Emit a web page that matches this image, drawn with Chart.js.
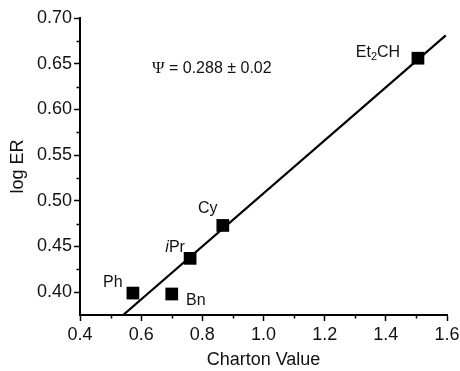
<!DOCTYPE html>
<html>
<head>
<meta charset="utf-8">
<script src="https://cdn.jsdelivr.net/npm/chart.js@4.4.1/dist/chart.umd.min.js"></script>
<style>
  html, body { margin: 0; padding: 0; background: #fff; }
  #wrap { width: 460px; height: 371px; }
</style>
</head>
<body>
<div id="wrap"><canvas id="c"></canvas></div>
<script>
// values
const chartonX = [0.573, 0.700, 0.760, 0.867, 1.505];
const logER = [0.399, 0.398, 0.437, 0.473, 0.656];
const groupNames = ['Ph', 'Bn', '<i>i</i>Pr', 'Cy', 'Et<sub>2</sub>CH'];
// fitted line end points
const fitX = [0.541, 1.596];
const fitY = [0.375, 0.681];
const psiText = 'Ψ = 0.288 ± 0.02';

// label offsets from the square (px)
const labelOffsets = [[-20, -10], [24, 7], [-15, -11], [-15, -17], [-40, -6]];

const FONT = '"Liberation Sans", Arial, sans-serif';
Chart.defaults.font.family = FONT;
Chart.defaults.color = '#111';

// split "<i>..</i>" and "<sub>..</sub>" into pieces
function parseLabel(s) {
    const parts = [];
    const re = /<(i|sub)>(.*?)<\/\1>|([^<]+)/g;
    let m;
    while ((m = re.exec(s)) !== null) {
        if (m[3]) parts.push({t: m[3], k: 'n'});
        else parts.push({t: m[2], k: m[1]});
    }
    return parts;
}

const labelPlugin = {
    id: 'pointLabels',
    afterDatasetsDraw(chart) {
        const ctx = chart.ctx;
        const xs = chart.scales.x, ys = chart.scales.y;
        ctx.save();
        ctx.fillStyle = '#111';
        ctx.textBaseline = 'middle';
        ctx.textAlign = 'left';
        groupNames.forEach((name, i) => {
            const px = xs.getPixelForValue(chartonX[i]) + labelOffsets[i][0];
            const py = ys.getPixelForValue(logER[i]) + labelOffsets[i][1];
            const parts = parseLabel(name);
            const fontFor = k => k === 'i' ? `italic 16px ${FONT}` : (k === 'sub' ? `11px ${FONT}` : `16px ${FONT}`);
            let w = 0;
            parts.forEach(p => { ctx.font = fontFor(p.k); w += ctx.measureText(p.t).width; });
            let x = px - w / 2;
            parts.forEach(p => {
                ctx.font = fontFor(p.k);
                ctx.fillText(p.t, x, p.k === 'sub' ? py + 5 : py);
                x += ctx.measureText(p.t).width;
            });
        });
        // Psi annotation
        const ax = chart.chartArea.left + 72, ay = chart.chartArea.top + 51;
        ctx.font = `17px "Liberation Serif", "Times New Roman", serif`;
        ctx.fillText(psiText[0], ax, ay);
        const pw = ctx.measureText(psiText[0]).width;
        ctx.font = `16px ${FONT}`;
        ctx.fillText(psiText.slice(1), ax + pw, ay);
        ctx.restore();
    }
};

// short minor ticks
const minorTicks = {
    id: 'minorTicks',
    afterDraw(chart) {
        const ctx = chart.ctx;
        const xs = chart.scales.x, ys = chart.scales.y;
        ctx.save();
        ctx.strokeStyle = '#000';
        ctx.lineWidth = 1.5;
        ctx.beginPath();
        xs.ticks.forEach(t => {
            if (Math.round(t.value * 10) % 2 !== 0) {
                const p = Math.round(xs.getPixelForValue(t.value)) + 0.5;
                ctx.moveTo(p, xs.top);
                ctx.lineTo(p, xs.top + 3.5);
            }
        });
        ys.ticks.forEach(t => {
            const r = Math.round(t.value * 1000);
            if (r % 50 !== 0 && r !== 375) {
                const p = Math.round(ys.getPixelForValue(t.value)) + 0.5;
                ctx.moveTo(ys.right, p);
                ctx.lineTo(ys.right - 3.5, p);
            }
        });
        ctx.stroke();
        ctx.restore();
    }
};

new Chart(document.getElementById('c'), {
    type: 'scatter',
    data: {
        datasets: [{
            type: 'scatter',
            data: chartonX.map((x, i) => ({x: x, y: logER[i]})),
            pointStyle: 'rect',
            pointRadius: 9,
            pointHoverRadius: 9,
            backgroundColor: '#000',
            borderWidth: 0
        }, {
            type: 'line',
            data: fitX.map((x, i) => ({x: x, y: fitY[i]})),
            borderColor: '#000',
            borderWidth: 2.2,
            pointRadius: 0,
            fill: false
        }]
    },
    options: {
        responsive: true,
        maintainAspectRatio: false,
        animation: false,
        events: [],
        layout: { padding: { top: 18, right: 13, left: 0, bottom: 0 } },
        plugins: {
            legend: { display: false },
            tooltip: { enabled: false }
        },
        scales: {
            x: {
                type: 'linear',
                min: 0.4,
                max: 1.6,
                afterFit: s => { s.height = 56; s.paddingLeft = 0; s.paddingRight = 0; },
                border: { color: '#000', width: 2 },
                grid: {
                    drawOnChartArea: false,
                    tickLength: 6,
                    tickWidth: 1.5,
                    tickColor: c => Math.round(c.tick.value * 10) % 2 === 0 ? '#000' : 'rgba(0,0,0,0)'
                },
                ticks: {
                    stepSize: 0.1,
                    padding: 3,
                    color: '#111',
                    font: { size: 18 },
                    maxRotation: 0,
                    autoSkip: false,
                    callback: v => Math.round(v * 10) % 2 === 0 ? v.toFixed(1) : ''
                },
                title: {
                    display: true,
                    text: 'Charton Value',
                    color: '#111',
                    font: { size: 18 },
                    padding: 0
                }
            },
            y: {
                type: 'linear',
                min: 0.375,
                max: 0.70,
                afterFit: s => { s.width = 80; s.paddingTop = 0; s.paddingBottom = 0; },
                border: { color: '#000', width: 2 },
                grid: {
                    drawOnChartArea: false,
                    tickLength: 6,
                    tickWidth: 1.5,
                    tickColor: c => Math.round(c.tick.value * 1000) % 50 === 0 ? '#000' : 'rgba(0,0,0,0)'
                },
                ticks: {
                    stepSize: 0.025,
                    padding: 2,
                    color: '#111',
                    font: { size: 18 },
                    autoSkip: false,
                    callback: v => Math.round(v * 1000) % 50 === 0 ? v.toFixed(2) : ''
                },
                title: {
                    display: true,
                    text: 'log ER',
                    color: '#111',
                    font: { size: 18 },
                    padding: { top: 7, bottom: 0 }
                }
            }
        }
    },
    plugins: [labelPlugin, minorTicks]
});
</script>
</body>
</html>
